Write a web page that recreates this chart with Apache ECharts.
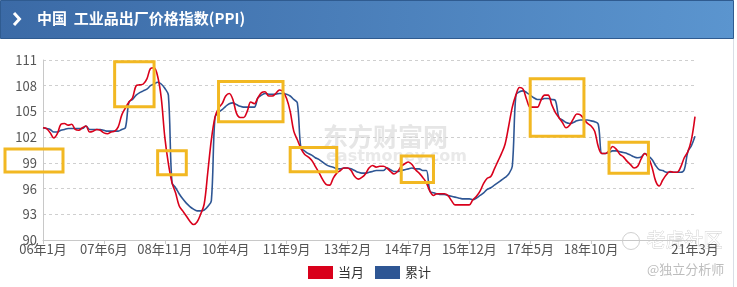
<!DOCTYPE html>
<html><head><meta charset="utf-8">
<script src="https://cdn.jsdelivr.net/npm/echarts@6/dist/echarts.min.js"></script>
<style>html,body{margin:0;padding:0;background:#fff}#c{width:737px;height:287px}</style>
</head><body><div id="c"></div>
<script>
// Categories: monthly, 2006-01 .. 2021-03
const startYear = 2006, startMonth = 1, monthCount = 183;
const categories = [];
for (let i = 0; i < monthCount; i++) {
  const m = (startMonth - 1 + i) % 12 + 1;
  const y = startYear + Math.floor((startMonth - 1 + i) / 12);
  categories.push(String(y % 100).padStart(2, '0') + '年' + m + '月');
}
const yTicks = [90, 93, 96, 99, 102, 105, 108, 111];
const seriesNames = ['当月', '累计'];

// 当月 (same month last year = 100)
const monthly = [
  103.1,103.0,102.5,101.9,102.4,103.5,103.6,103.4,103.5,102.9,102.8,103.1,
  103.3,102.6,102.7,102.9,102.8,102.5,102.4,102.6,102.7,103.2,104.6,105.4,
  106.1,106.6,108.0,108.1,108.2,108.8,110.0,110.1,109.1,106.6,102.0,98.9,
  96.7,95.5,94.0,93.4,92.8,92.2,91.8,92.1,93.0,94.2,97.9,101.7,
  104.3,105.4,105.9,106.8,107.1,106.4,104.8,104.3,104.3,105.0,106.1,105.9,
  106.6,107.2,107.3,106.8,106.8,107.1,107.5,107.3,106.5,105.0,102.7,101.7,
  100.7,100.0,99.7,99.3,98.6,97.9,97.1,96.5,96.4,97.2,97.8,98.1,
  98.4,98.4,98.1,97.4,97.1,97.3,97.7,98.4,98.7,98.5,98.6,98.6,
  98.4,98.0,97.7,98.0,98.6,98.9,99.1,98.8,98.2,97.8,97.3,96.7,
  95.7,95.2,95.4,95.4,95.4,95.2,94.6,94.1,94.1,94.1,94.1,94.1,
  94.7,95.1,95.7,96.6,97.2,97.4,98.3,99.2,100.1,101.2,103.3,105.5,
  106.9,107.8,107.6,106.4,105.5,105.5,105.5,106.3,106.9,106.9,105.8,104.9,
  104.3,103.7,103.1,103.4,104.1,104.7,104.6,104.1,103.6,103.3,102.7,100.9,
  100.1,100.1,100.4,100.9,100.6,100.0,99.7,99.2,98.8,98.4,98.6,99.5,
  100.1,99.6,98.5,96.9,96.3,97.0,97.6,98.0,97.9,97.9,98.5,99.6,
  100.3,101.7,104.4
];
// 累计 (year to date)
const cumulative = [
  103.1,103.0,102.9,102.6,102.6,102.8,102.9,103.0,103.0,103.0,103.0,103.0,
  103.3,102.9,102.9,102.9,102.9,102.8,102.7,102.7,102.7,102.7,102.9,103.1,
  106.1,106.4,106.9,107.2,107.4,107.6,108.0,108.2,108.4,108.2,107.7,106.9,
  96.7,96.1,95.4,94.8,94.3,93.9,93.6,93.4,93.4,93.5,93.9,94.6,
  104.3,104.9,105.2,105.6,105.9,106.0,105.8,105.6,105.5,105.5,105.5,105.5,
  106.6,106.9,107.1,107.0,107.0,107.0,107.1,107.1,107.0,106.8,106.4,106.0,
  100.7,100.4,100.1,99.9,99.6,99.4,99.1,98.8,98.6,98.5,98.3,98.3,
  98.4,98.4,98.3,98.1,97.9,97.8,97.8,97.9,98.0,98.1,98.1,98.1,
  98.4,98.2,98.0,98.0,98.1,98.2,98.3,98.4,98.3,98.3,98.1,98.1,
  95.7,95.5,95.4,95.3,95.3,95.2,95.1,95.0,94.9,94.8,94.8,94.8,
  94.7,94.9,95.2,95.5,95.9,96.1,96.4,96.7,97.0,97.3,97.7,98.6,
  106.9,107.3,107.4,107.2,106.9,106.6,106.4,106.4,106.5,106.5,106.4,106.3,
  104.3,104.0,103.7,103.6,103.7,103.9,104.0,104.0,104.0,103.9,103.8,103.5,
  100.1,100.1,100.2,100.4,100.4,100.3,100.2,100.1,99.9,99.7,99.6,99.7,
  100.1,99.8,99.4,98.7,98.2,98.1,97.9,97.9,97.9,97.9,97.9,98.2,
  100.3,101.0,102.1
];
// Highlight boxes (annotations): [start month index, end month index, top value, bottom value]
const boxStart = [20, 32, 49, 69, 100, 136, 158];
const boxEnd   = [31, 40, 67, 82, 109, 151, 169];
const boxTop   = [110.8, 100.4, 108.5, 100.8, 99.8, 108.8, 101.4];
const boxBot   = [105.55, 97.6, 103.8, 97.95, 96.7, 102.1, 97.8];

const labelIdx = (i) => (i % 17 === 0 && i <= 153) || i === monthCount - 1;
const boxColor = '#f2b822';
const markAreaData = boxStart.map((s, k) => [
  { xAxis: categories[s], yAxis: boxTop[k] },
  { xAxis: categories[boxEnd[k]], yAxis: boxBot[k] }
]);

const chart = echarts.init(document.getElementById('c'), null, { renderer: 'canvas' });
const font = '"Noto Sans CJK SC", "Microsoft YaHei", sans-serif';
chart.setOption({
  animation: false,
  backgroundColor: '#fff',
  textStyle: { fontFamily: font },
  grid: { left: 43, right: 42, top: 60, bottom: 47, containLabel: false },
  legend: {
    data: seriesNames, left: 308, top: 266, padding: 0, itemGap: 11,
    icon: 'rect', itemWidth: 25, itemHeight: 13,
    textStyle: { fontSize: 13, color: '#333', fontFamily: font }
  },
  xAxis: {
    type: 'category', data: categories, boundaryGap: false,
    axisLine: { lineStyle: { color: '#c8c8c8' } },
    axisTick: { interval: labelIdx, length: 4, lineStyle: { color: '#c8c8c8' } },
    axisLabel: { interval: labelIdx, color: '#555', fontSize: 13, margin: 3, fontFamily: font },
    splitLine: { show: false }
  },
  yAxis: {
    type: 'value', min: yTicks[0], max: yTicks[yTicks.length - 1], interval: 3,
    axisLine: { show: true, lineStyle: { color: '#c8c8c8' } },
    axisTick: { show: false },
    axisLabel: { color: '#555', fontSize: 13, margin: 6, fontFamily: font },
    splitLine: { lineStyle: { color: '#cfcfcf', type: [3, 3] } }
  },
  series: [
    {
      name: seriesNames[0], type: 'line', data: monthly, smooth: 0.35, symbol: 'none',
      itemStyle: { color: '#d9001b' }, lineStyle: { color: '#d9001b', width: 1.6 }, z: 3,
      markArea: {
        silent: true, z: 5,
        itemStyle: { color: 'rgba(0,0,0,0)', borderColor: boxColor, borderWidth: 3 },
        label: { show: false },
        data: markAreaData
      }
    },
    {
      name: seriesNames[1], type: 'line', data: cumulative, smooth: 0.35, symbol: 'none',
      itemStyle: { color: '#2e5694' }, lineStyle: { color: '#2e5694', width: 1.6 }, z: 2
    }
  ],
  graphic: [
    { type: 'group', z: -10, children: [
      { type: 'text', left: 323, top: 124,
        style: { text: '东方财富网', fill: '#e6e6e6', font: 'bold 25px "Noto Sans CJK SC", sans-serif' } },
      { type: 'text', left: 326, top: 149,
        style: { text: 'eastmoney.com', fill: '#e9e9e9', font: 'bold 16px "DejaVu Sans", sans-serif' } },
      { type: 'circle', shape: { cx: 631, cy: 241, r: 8.5 },
        style: { fill: 'rgba(0,0,0,0)', stroke: '#d0d0d0', lineWidth: 1 } },
      { type: 'text', left: 646, top: 230,
        style: { text: '老虎社区', fill: '#fff', stroke: '#cfcfcf', lineWidth: 0.8, font: '19px "Noto Sans CJK SC", sans-serif' } },
      { type: 'text', left: 647, top: 263,
        style: { text: '@独立分析师', fill: '#bdbdbd', font: '13px "Noto Sans CJK SC", sans-serif' } }
    ] },
    { type: 'rect', left: 0, top: 0, z: 10,
      shape: { width: 733, height: 38 },
      style: { fill: new echarts.graphic.LinearGradient(0, 0, 1, 1, [
        { offset: 0, color: '#3b6aa6' }, { offset: 1, color: '#5b95cf' }]),
        stroke: '#2f5b90', lineWidth: 1 } },
    { type: 'polyline', z: 11, shape: { points: [[14, 13], [19.5, 19], [14, 25]] },
      style: { stroke: '#fff', lineWidth: 3, fill: null } },
    { type: 'text', left: 37, top: 11, z: 11,
      style: { text: '中国  工业品出厂价格指数(PPI)', fill: '#fff', font: 'bold 15px "Noto Sans CJK SC", sans-serif' } },
    { type: 'line', z: 1, shape: { x1: 733.5, y1: 38, x2: 733.5, y2: 287 },
      style: { stroke: '#d9dee6', lineWidth: 1 } },
    { type: 'rect', z: 10, shape: { x: 5, y: 149, width: 58, height: 23 },
      style: { fill: 'rgba(0,0,0,0)', stroke: boxColor, lineWidth: 3 } }
  ]
});
</script></body></html>
